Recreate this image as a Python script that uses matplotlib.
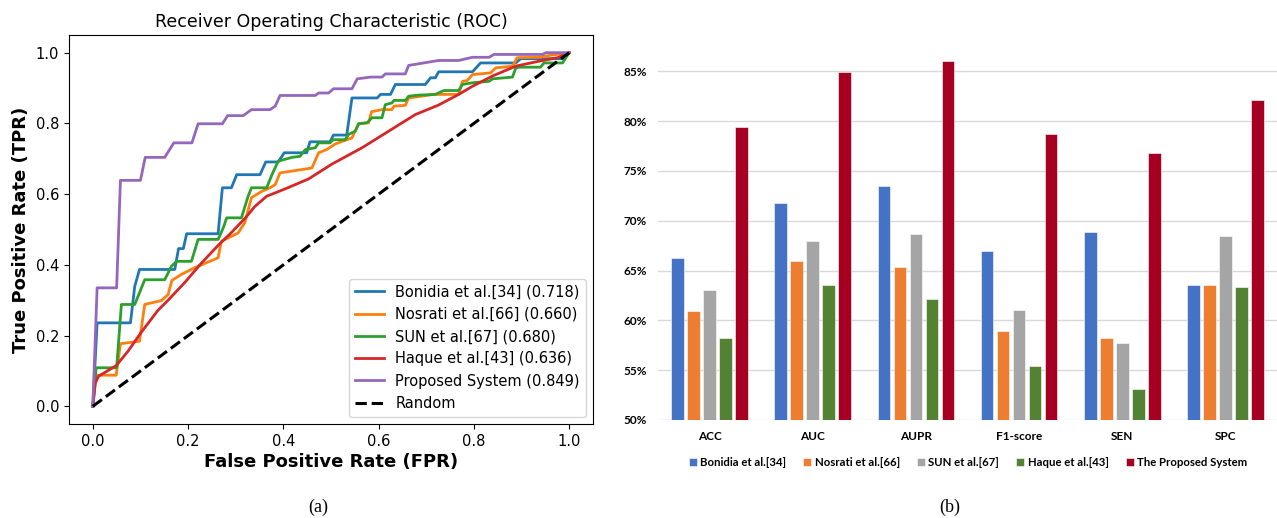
"""
ROC-Kurven (a) und Metrik-Vergleich als Balkendiagramm (b).
"""

import numpy as np
import matplotlib
matplotlib.use("Agg")
import matplotlib.pyplot as plt

# --- ROC-Daten ---
fpr_bonidia = [0, 0.009, 0.079, 0.088, 0.098, 0.172, 0.18, 0.19, 0.197, 0.263,
               0.272, 0.291, 0.302, 0.351, 0.363, 0.389, 0.402, 0.449, 0.456, 0.498,
               0.505, 0.533, 0.544, 0.597, 0.604, 0.625, 0.635, 0.698, 0.709, 0.719,
               0.726, 0.797, 0.814, 0.888, 0.898, 0.989, 1.0]
tpr_bonidia = [0, 0.236, 0.236, 0.339, 0.387, 0.387, 0.446, 0.446, 0.488, 0.488,
               0.618, 0.618, 0.655, 0.655, 0.691, 0.691, 0.717, 0.717, 0.748, 0.748,
               0.767, 0.767, 0.872, 0.872, 0.882, 0.882, 0.910, 0.910, 0.929, 0.929,
               0.946, 0.946, 0.971, 0.971, 0.983, 0.983, 1.0]

fpr_nosrati = [0, 0.007, 0.049, 0.058, 0.098, 0.109, 0.144, 0.158, 0.166, 0.186,
               0.214, 0.249, 0.263, 0.270, 0.305, 0.319, 0.333, 0.355, 0.372, 0.383,
               0.393, 0.46, 0.474, 0.491, 0.509, 0.544, 0.558, 0.579, 0.585, 0.607,
               0.628, 0.632, 0.656, 0.663, 0.716, 0.768, 0.776, 0.786, 0.797, 0.835,
               0.846, 0.881, 0.891, 0.94, 0.947, 1.0]
tpr_nosrati = [0, 0.088, 0.088, 0.177, 0.184, 0.288, 0.299, 0.316, 0.356, 0.373,
               0.392, 0.412, 0.420, 0.467, 0.490, 0.519, 0.59, 0.608, 0.618, 0.627,
               0.660, 0.674, 0.717, 0.726, 0.742, 0.759, 0.799, 0.802, 0.833, 0.839,
               0.839, 0.849, 0.851, 0.872, 0.882, 0.882, 0.919, 0.921, 0.938, 0.943,
               0.957, 0.962, 0.986, 0.987, 0.990, 1.0]

fpr_sun = [0, 0.007, 0.05, 0.06, 0.088, 0.109, 0.151, 0.165, 0.176, 0.207,
           0.221, 0.263, 0.274, 0.281, 0.312, 0.326, 0.333, 0.365, 0.376, 0.389,
           0.418, 0.435, 0.446, 0.467, 0.474, 0.498, 0.505, 0.53, 0.537, 0.551,
           0.558, 0.576, 0.586, 0.607, 0.614, 0.628, 0.632, 0.656, 0.663, 0.684,
           0.719, 0.737, 0.768, 0.776, 0.797, 0.832, 0.839, 0.881, 0.888, 0.895,
           0.940, 0.947, 0.986, 1.0]
tpr_sun = [0, 0.109, 0.109, 0.288, 0.288, 0.358, 0.358, 0.396, 0.41, 0.41,
           0.472, 0.472, 0.505, 0.533, 0.533, 0.594, 0.618, 0.618, 0.655, 0.693,
           0.704, 0.707, 0.726, 0.731, 0.745, 0.745, 0.754, 0.754, 0.769, 0.778,
           0.799, 0.802, 0.816, 0.816, 0.853, 0.858, 0.865, 0.865, 0.877, 0.880,
           0.882, 0.893, 0.893, 0.910, 0.915, 0.919, 0.926, 0.931, 0.957, 0.959,
           0.959, 0.971, 0.971, 1.0]

fpr_haque = [0, 0.005, 0.012, 0.049, 0.074, 0.102, 0.119, 0.137, 0.158, 0.193,
             0.228, 0.263, 0.290, 0.323, 0.34, 0.365, 0.404, 0.453, 0.502, 0.565,
             0.621, 0.677, 0.726, 0.768, 0.797, 0.839, 0.888, 0.937, 0.976, 1.0]
tpr_haque = [0, 0.065, 0.085, 0.115, 0.156, 0.21, 0.24, 0.272, 0.30, 0.35,
             0.405, 0.455, 0.49, 0.537, 0.565, 0.594, 0.615, 0.643, 0.685, 0.731,
             0.778, 0.825, 0.852, 0.882, 0.905, 0.934, 0.962, 0.976, 0.986, 1.0]

fpr_proposed = [0, 0.009, 0.05, 0.058, 0.10, 0.11, 0.151, 0.17, 0.208, 0.221,
                0.272, 0.283, 0.316, 0.333, 0.372, 0.383, 0.393, 0.467, 0.474, 0.495,
                0.505, 0.544, 0.555, 0.583, 0.607, 0.614, 0.656, 0.663, 0.726, 0.768,
                0.797, 0.832, 0.842, 0.944, 0.951, 1.0]
tpr_proposed = [0, 0.335, 0.335, 0.639, 0.639, 0.704, 0.704, 0.745, 0.745, 0.799,
                0.799, 0.822, 0.822, 0.839, 0.839, 0.849, 0.879, 0.879, 0.886, 0.886,
                0.898, 0.898, 0.926, 0.931, 0.931, 0.940, 0.940, 0.964, 0.978, 0.978,
                0.987, 0.987, 0.995, 0.995, 1.0, 1.0]

roc_labels = ['Bonidia et al.[34] (0.718)', 'Nosrati et al.[66] (0.660)',
              'SUN et al.[67] (0.680)', 'Haque et al.[43] (0.636)',
              'Proposed System (0.849)']

# --- Balkendiagramm-Daten [%] ---
metrics = ['ACC', 'AUC', 'AUPR', 'F1-score', 'SEN', 'SPC']
bar_labels = ['Bonidia et al.[34]', 'Nosrati et al.[66]', 'SUN et al.[67]',
              'Haque et al.[43]', 'The Proposed System']
vals_bonidia = [66.3, 71.8, 73.5, 67.0, 68.9, 63.6]
vals_nosrati = [60.9, 66.0, 65.4, 58.9, 58.2, 63.6]
vals_sun = [63.1, 68.0, 68.7, 61.0, 57.7, 68.5]
vals_haque = [58.2, 63.6, 62.1, 55.4, 53.1, 63.4]
vals_proposed = [79.4, 84.9, 86.0, 78.7, 76.8, 82.1]

W, H = 1277, 518
fig = plt.figure(figsize=(W / 100, H / 100), dpi=100)

# ---------------- (a) ROC ----------------
ax1 = fig.add_axes([69 / W, 1 - 424 / H, (593 - 69) / W, (424 - 35) / H])
curves = [(fpr_bonidia, tpr_bonidia), (fpr_nosrati, tpr_nosrati),
          (fpr_sun, tpr_sun), (fpr_haque, tpr_haque),
          (fpr_proposed, tpr_proposed)]
colors = ['tab:blue', 'tab:orange', 'tab:green', 'tab:red', 'tab:purple']
for (fpr, tpr), lab, col in zip(curves, roc_labels, colors):
    ax1.plot(fpr, tpr, color=col, lw=2, label=lab)
ax1.plot([0, 1], [0, 1], 'k--', lw=2.2, label='Random')
ax1.set_xlim(-0.05, 1.05)
ax1.set_ylim(-0.05, 1.05)
ax1.set_xticks(np.arange(0, 1.01, 0.2))
ax1.set_yticks(np.arange(0, 1.01, 0.2))
ax1.tick_params(labelsize=10.5)
ax1.set_title('Receiver Operating Characteristic (ROC)', fontsize=12.5)
ax1.set_xlabel('False Positive Rate (FPR)', fontsize=13, fontweight='bold', labelpad=3)
ax1.set_ylabel('True Positive Rate (TPR)', fontsize=13, fontweight='bold')
ax1.legend(loc='lower right', fontsize=10.5)

# ---------------- (b) Balken ----------------
ax2 = fig.add_axes([658 / W, 1 - 420 / H, 619 / W, (420 - 41.5) / H])
bar_vals = [vals_bonidia, vals_nosrati, vals_sun, vals_haque, vals_proposed]
bar_colors = ['#4472C4', '#ED7D31', '#A5A5A5', '#548235', '#A50021']
x = np.arange(len(metrics))
slot = 0.155
for i, (vals, lab, col) in enumerate(zip(bar_vals, bar_labels, bar_colors)):
    heights = np.array(vals) - 50
    ax2.bar(x + (i - 2) * slot, heights, width=0.123, bottom=50, color=col,
            edgecolor='white', linewidth=0.4, label=lab, zorder=3)
ax2.set_xlim(-0.5, 5.5)
ax2.set_ylim(50, 88)
ax2.set_yticks(range(50, 86, 5))
ax2.set_yticklabels([f'{v}%' for v in range(50, 86, 5)])
ax2.set_xticks(x)
ax2.set_xticklabels(metrics)
ax2.grid(True, axis='y', color='#D9D9D9', lw=1, zorder=0)
for s in ax2.spines.values():
    s.set_visible(False)
ax2.tick_params(length=0, labelsize=8.5)
ax2.tick_params(axis='x', pad=8)
ax2.tick_params(axis='y', pad=8)
for t in ax2.get_xticklabels() + ax2.get_yticklabels():
    t.set_family('Lato')
    t.set_fontweight('bold')
fig.legend(*ax2.get_legend_handles_labels(), loc='center',
           bbox_to_anchor=(968 / W, 1 - 462 / H), ncol=5, frameon=False,
           prop={'family': 'Lato', 'weight': 'bold', 'size': 8.2},
           handlelength=0.7, handleheight=0.7, handletextpad=0.3,
           columnspacing=1.5)

# Bildunterschriften
fig.text(318 / W, 1 - 507 / H, '(a)', ha='center', va='center',
         family='Liberation Serif', fontsize=13)
fig.text(950 / W, 1 - 507 / H, '(b)', ha='center', va='center',
         family='Liberation Serif', fontsize=13)

fig.savefig('out.png', dpi=100)
